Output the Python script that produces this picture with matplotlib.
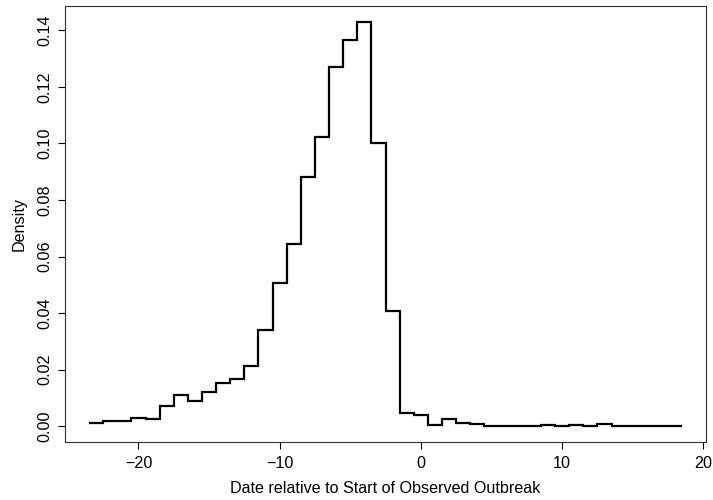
import numpy as np
import matplotlib
matplotlib.use("Agg")
import matplotlib.pyplot as plt

plt.rcParams["font.family"] = ["Liberation Sans", "DejaVu Sans"]

# histogram bins: one day wide, from -23.5 to 18.5
bin_edges = np.arange(-23.5, 19.0, 1.0)
density = [
    0.0012, 0.0018, 0.0018, 0.0028, 0.0024, 0.0072, 0.0110, 0.0088,
    0.0119, 0.0154, 0.0167, 0.0212, 0.0341, 0.0506, 0.0646, 0.0880,
    0.1024, 0.1270, 0.1365, 0.1430, 0.1000, 0.0408, 0.0047, 0.0039,
    0.0005, 0.0024, 0.0011, 0.0006, 0.0002, 0.0002, 0.0002, 0.0002,
    0.0005, 0.0001, 0.0004, 0.0001, 0.0009, 0.0001, 0.0001, 0.0001,
    0.0001, 0.0001,
]
xticks = [-20, -10, 0, 10, 20]
yticks = [0.00, 0.02, 0.04, 0.06, 0.08, 0.10, 0.12, 0.14]

FS = 11.6

fig = plt.figure(figsize=(7.13, 5.0), dpi=100)
ax = fig.add_axes([0.0916, 0.1154, 0.8984, 0.8732])

ax.stairs(density, bin_edges, baseline=None, color="black", linewidth=1.6)

# R-style 4% padding around data range
x0, x1 = bin_edges[0], bin_edges[-1]
ymax = max(density)
ax.set_xlim(x0 - 0.04 * (x1 - x0), x1 + 0.04 * (x1 - x0))
ax.set_ylim(-0.04 * ymax, ymax * 1.04)

ax.set_xticks(xticks)
ax.set_yticks(yticks)
ax.set_yticklabels([f"{v:.2f}" for v in yticks], rotation=90, va="center")
ax.tick_params(direction="out", length=5, width=0.8, labelsize=FS, pad=5)
ax.tick_params(axis="y", pad=4)
for s in ax.spines.values():
    s.set_linewidth(0.8)
    s.set_color("#333333")

ax.set_xlabel("Date relative to Start of Observed Outbreak", fontsize=FS, labelpad=7)
ax.set_ylabel("Density", fontsize=FS, labelpad=8)

fig.savefig("out.png", dpi=100)
